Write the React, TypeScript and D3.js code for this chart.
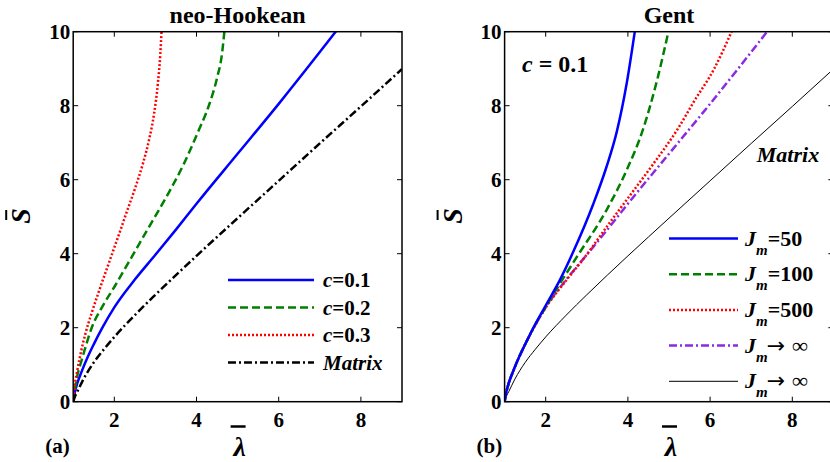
import React from 'react';
import * as d3 from 'd3';

// stretch (lambda bar) vs. stress (S bar)
const matrixCurve: [number, number][] = [
  [1, 0], [1.05, 0.16], [1.1, 0.27], [1.25, 0.61], [1.5, 1.06], [1.75, 1.42], [2, 1.75], [2.5, 2.34],
  [3, 2.89], [4, 3.94], [5, 4.96], [6, 5.97], [7, 6.98], [8, 7.98], [9, 8.99],
];
const neoC01: [number, number][] = [
  [1, 0], [1.05, 0.3], [1.1, 0.5], [1.2, 0.8], [1.35, 1.2], [1.5, 1.55], [1.7, 1.98],
  [2, 2.55], [2.5, 3.3], [3, 3.97], [3.5, 4.65], [4, 5.35], [5, 6.7], [6, 8.05], [7, 9.45],
  [7.4, 10.02],
];
const neoC02: [number, number][] = [
  [1, 0], [1.05, 0.4], [1.1, 0.7], [1.2, 1.1], [1.3, 1.48], [1.45, 2.0], [1.7, 2.55],
  [2, 3.1], [2.34, 3.75], [2.79, 4.62], [3.27, 5.54], [3.68, 6.4], [4.04, 7.3], [4.3, 8.0],
  [4.5, 8.75], [4.62, 9.4], [4.68, 10.02],
];
const neoC03: [number, number][] = [
  [1, 0], [1.04, 0.45], [1.1, 0.85], [1.2, 1.4], [1.3, 1.85], [1.45, 2.4], [1.6, 2.9],
  [1.75, 3.38], [1.9, 3.85], [2.1, 4.48], [2.3, 5.12], [2.5, 5.75], [2.7, 6.45], [2.85, 7.1],
  [2.97, 7.8], [3.06, 8.6], [3.12, 9.4], [3.15, 10.02],
];
const gentJ50: [number, number][] = [
  [1, 0], [1.05, 0.3], [1.1, 0.5], [1.2, 0.8], [1.35, 1.2], [1.5, 1.55], [1.7, 2.0],
  [2, 2.6], [2.35, 3.3], [2.67, 4.05], [3.16, 5.35], [3.48, 6.35], [3.73, 7.3], [3.97, 8.6],
  [4.17, 10.02],
];
const gentJ100: [number, number][] = [
  [1, 0], [1.05, 0.3], [1.1, 0.5], [1.2, 0.8], [1.35, 1.2], [1.5, 1.55], [1.7, 1.99],
  [2, 2.56], [2.35, 3.2], [2.75, 3.9], [3.48, 5.18], [3.97, 6.26], [4.38, 7.4], [4.71, 8.69],
  [4.99, 10.02],
];
const gentJ500: [number, number][] = [
  [1, 0], [1.05, 0.3], [1.1, 0.5], [1.2, 0.8], [1.35, 1.2], [1.5, 1.55], [1.7, 1.98],
  [2, 2.54], [2.5, 3.28], [2.96, 3.92], [3.5, 4.75], [4, 5.5], [4.6, 6.4], [5.2, 7.35],
  [5.6, 8.1], [6.1, 9.0], [6.53, 10.02],
];

const xTicks = [2, 4, 6, 8];
const yTicks = [0, 2, 4, 6, 8, 10];
const leftLegend = ['0.1', '0.2', '0.3'];
const rightLegend = ['=50', '=100', '=500', '\u221e', '\u221e'];

const FONT = "'Liberation Serif', 'Times New Roman', Times, serif";

const styles = {
  blue: { stroke: '#0000ff', width: 2.5, dash: undefined },
  green: { stroke: '#008000', width: 2.5, dash: '8,4' },
  red: { stroke: '#ff0000', width: 2.5, dash: '2,2' },
  black: { stroke: '#000000', width: 2.5, dash: '8,3,2,3' },
  purple: { stroke: '#8a2be2', width: 2.5, dash: '8,3,2,3' },
  thin: { stroke: '#000000', width: 1, dash: undefined },
};

type Style = { stroke: string; width: number; dash?: string };
type Series = { data: [number, number][]; style: Style };

const Panel: React.FC<{
  id: string;
  left: number;
  right: number;
  title: string;
  tag: string;
  series: Series[];
  children?: React.ReactNode;
}> = ({ id, left, right, title, tag, series, children }) => {
  const top = 31.7;
  const bottom = 401.7;
  const x = d3.scaleLinear().domain([1, 9]).range([left, right]);
  const y = d3.scaleLinear().domain([0, 10]).range([bottom, top]);
  const line = d3
    .line<[number, number]>()
    .x((d) => x(d[0]))
    .y((d) => y(d[1]))
    .curve(d3.curveMonotoneX);
  const mid = (left + right) / 2;
  const tl = 5;

  return (
    <g style={{ fontFamily: FONT, fontWeight: 'bold' }}>
      <defs>
        <clipPath id={id}>
          <rect x={left} y={top} width={right - left} height={bottom - top} />
        </clipPath>
      </defs>
      <g clipPath={`url(#${id})`}>
        {series.map((s, i) => (
          <path
            key={i}
            d={line(s.data) || ''}
            fill="none"
            stroke={s.style.stroke}
            strokeWidth={s.style.width}
            strokeDasharray={s.style.dash}
          />
        ))}
      </g>
      {/* frame with inward ticks */}
      <rect x={left} y={top} width={right - left} height={bottom - top} fill="none" stroke="#000" strokeWidth={1.5} />
      {xTicks.map((t) => (
        <g key={'x' + t}>
          <line x1={x(t)} x2={x(t)} y1={bottom} y2={bottom - tl} stroke="#000" />
          <line x1={x(t)} x2={x(t)} y1={top} y2={top + tl} stroke="#000" />
          <text x={x(t)} y={bottom + 25} textAnchor="middle" fontSize={21}>{t}</text>
        </g>
      ))}
      {yTicks.map((t) => (
        <g key={'y' + t}>
          <line x1={left} x2={left + tl} y1={y(t)} y2={y(t)} stroke="#000" />
          <line x1={right} x2={right - tl} y1={y(t)} y2={y(t)} stroke="#000" />
          <text x={left - 3} y={y(t) + 7} textAnchor="end" fontSize={21}>{t}</text>
        </g>
      ))}
      <text x={mid} y={23} textAnchor="middle" fontSize={24}>{title}</text>
      {/* lambda bar axis label */}
      <text x={mid + 2} y={456} textAnchor="middle" fontSize={28} fontStyle="italic">λ</text>
      <line x1={mid - 7} x2={mid + 8} y1={426.5} y2={426.5} stroke="#000" strokeWidth={2.5} />
      {/* S bar axis label */}
      <g transform={`translate(${left - 43},216) rotate(-90)`}>
        <text x={0} y={0} textAnchor="middle" fontSize={28} fontStyle="italic">S</text>
        <line x1={-4} x2={6} y1={-24} y2={-24} stroke="#000" strokeWidth={2} />
      </g>
      <text x={left - 28} y={453} fontSize={21}>{tag}</text>
      {children}
    </g>
  );
};

const App: React.FC = () => {
  const leftStyles = [styles.blue, styles.green, styles.red, styles.black];
  const rightStyles = [styles.blue, styles.green, styles.red, styles.purple, styles.thin];

  return (
    <svg width={830} height={462} style={{ position: 'absolute', left: 0, top: 0, background: '#fff' }}>
      <Panel
        id="clipA"
        left={73.2}
        right={402}
        title="neo-Hookean"
        tag="(a)"
        series={[
          { data: neoC01, style: styles.blue },
          { data: neoC02, style: styles.green },
          { data: neoC03, style: styles.red },
          { data: matrixCurve, style: styles.black },
        ]}
      >
        <g style={{ fontFamily: FONT, fontWeight: 'bold' }} fontSize={21}>
          {leftStyles.map((s, i) => {
            const ly = 280 + i * 27.5;
            return (
              <g key={i}>
                <line x1={228} x2={314} y1={ly} y2={ly} stroke={s.stroke} strokeWidth={s.width} strokeDasharray={s.dash} />
                <text x={323} y={ly + 7}>
                  {i < 3 ? (
                    <>
                      <tspan fontStyle="italic">c</tspan>={leftLegend[i]}
                    </>
                  ) : (
                    <tspan fontStyle="italic">Matrix</tspan>
                  )}
                </text>
              </g>
            );
          })}
        </g>
      </Panel>
      <Panel
        id="clipB"
        left={504.6}
        right={833.4}
        title="Gent"
        tag="(b)"
        series={[
          { data: matrixCurve, style: styles.thin },
          { data: neoC01, style: styles.purple },
          { data: gentJ500, style: styles.red },
          { data: gentJ100, style: styles.green },
          { data: gentJ50, style: styles.blue },
        ]}
      >
        <g style={{ fontFamily: FONT, fontWeight: 'bold' }}>
          <text x={522} y={72} fontSize={24}>
            <tspan fontStyle="italic">c</tspan> = 0.1
          </text>
          <text x={788} y={162} fontSize={22} fontStyle="italic" textAnchor="middle">Matrix</text>
          {rightStyles.map((s, i) => {
            const ly = 238.5 + i * 35.7;
            return (
              <g key={i}>
                <line x1={669} x2={738} y1={ly} y2={ly} stroke={s.stroke} strokeWidth={s.width} strokeDasharray={s.dash} />
                <text x={745} y={ly + 7} fontSize={22}>
                  <tspan fontStyle="italic">J</tspan>
                  <tspan fontStyle="italic" fontSize={15} dy={9}>m</tspan>
                  {i < 3 ? (
                    <tspan dy={-9}>{rightLegend[i]}</tspan>
                  ) : (
                    <>
                      <tspan dy={-9} dx={-1} style={{ fontFamily: "'DejaVu Sans', sans-serif", fontWeight: 'normal' }} fontSize={22}>
                        {'\u2192'}
                      </tspan>
                      <tspan dx={7}>{rightLegend[i]}</tspan>
                    </>
                  )}
                </text>
              </g>
            );
          })}
        </g>
      </Panel>
    </svg>
  );
};

export default App;
